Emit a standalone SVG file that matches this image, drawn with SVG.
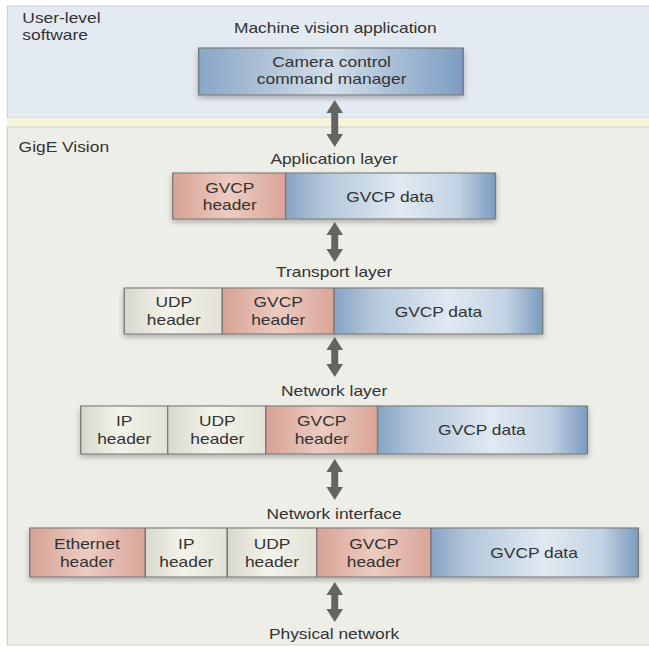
<svg xmlns="http://www.w3.org/2000/svg" width="649" height="648" viewBox="0 0 649 648">
  <defs>
    <linearGradient id="gData" x1="0" y1="0" x2="1" y2="0">
      <stop offset="0" stop-color="#86a3c4"/>
      <stop offset="0.18" stop-color="#b3c7db"/>
      <stop offset="0.55" stop-color="#e1e9f1"/>
      <stop offset="0.82" stop-color="#c3d3e3"/>
      <stop offset="1" stop-color="#7a9bc0"/>
    </linearGradient>
    <linearGradient id="gGvcp" x1="0" y1="0" x2="1" y2="0">
      <stop offset="0" stop-color="#d7a294"/>
      <stop offset="0.5" stop-color="#edcbc1"/>
      <stop offset="1" stop-color="#d9a597"/>
    </linearGradient>
    <linearGradient id="gPlain" x1="0" y1="0" x2="1" y2="0">
      <stop offset="0" stop-color="#d8d7cd"/>
      <stop offset="0.45" stop-color="#f4f3eb"/>
      <stop offset="1" stop-color="#e3e2d8"/>
    </linearGradient>
    <linearGradient id="gCam" x1="0" y1="0" x2="1" y2="0">
      <stop offset="0" stop-color="#88a6c6"/>
      <stop offset="0.5" stop-color="#d3dee9"/>
      <stop offset="1" stop-color="#7c9dc2"/>
    </linearGradient>
    <filter id="shadow" x="-10%" y="-30%" width="120%" height="170%">
      <feGaussianBlur in="SourceAlpha" stdDeviation="2.5"/>
      <feOffset dx="0" dy="3" result="b"/>
      <feComponentTransfer><feFuncA type="linear" slope="0.25"/></feComponentTransfer>
      <feMerge><feMergeNode/><feMergeNode in="SourceGraphic"/></feMerge>
    </filter>
    <marker id="head" viewBox="0 0 13 13.4" refX="1" refY="6.7" markerWidth="13" markerHeight="13.4" markerUnits="userSpaceOnUse" orient="auto-start-reverse">
      <path d="M0,0 L13,6.7 L0,13.4 Z" fill="#646464"/>
    </marker>
  </defs>
  <style>
    text { font-family: "Liberation Sans", Arial, sans-serif; font-size: 14px; fill: #333; }
    .c { text-anchor: middle; }
    .box { stroke: #7a7a7a; stroke-width: 1.1; }
    .link { stroke: #646464; stroke-width: 5.6; fill: none; marker-start: url(#head); marker-end: url(#head); }
  </style>

  <rect width="649" height="648" fill="#ffffff"/>

  <!-- the whole drawing is laid out on a horizontally condensed grid -->
  <g transform="scale(1.242 1)">
    <!-- panels -->
    <g id="user-level">
      <rect x="6" y="6" width="520" height="112" fill="#e4eaf2" stroke="#c9d2dd" stroke-width="1"/>
      <text x="18" y="23">User-level</text>
      <text x="18" y="40">software</text>
      <text class="c" x="270" y="33">Machine vision application</text>
    </g>
    <rect x="6" y="118" width="520" height="9" fill="#f6f4dc"/>
    <g id="gige-vision">
      <rect x="6" y="127" width="520" height="518" fill="#eeeee8" stroke="#cfcfc8" stroke-width="1"/>
      <text x="15" y="152">GigE Vision</text>
    </g>

    <!-- connectors -->
    <g id="connectors">
      <line class="link" x1="269.5" y1="112" x2="269.5" y2="135"/>
      <line class="link" x1="269.5" y1="234" x2="269.5" y2="250"/>
      <line class="link" x1="269.5" y1="349" x2="269.5" y2="365"/>
      <line class="link" x1="269.5" y1="471" x2="269.5" y2="488"/>
      <line class="link" x1="269.5" y1="594" x2="269.5" y2="610"/>
    </g>

    <g id="camera-control">
      <rect class="box" x="160" y="48" width="213" height="47" fill="url(#gCam)" filter="url(#shadow)"/>
      <text class="c" x="267" y="67">Camera control</text>
      <text class="c" x="267" y="84">command manager</text>
    </g>

    <!-- Application layer -->
    <g id="application-layer">
      <text class="c" x="269" y="164">Application layer</text>
      <g filter="url(#shadow)">
        <rect class="box" x="139" y="173" width="91" height="46" fill="url(#gGvcp)"/>
        <rect class="box" x="230" y="173" width="169" height="46" fill="url(#gData)"/>
      </g>
      <text class="c" x="185" y="193">GVCP</text>
      <text class="c" x="185" y="210">header</text>
      <text class="c" x="314" y="202">GVCP data</text>
    </g>

    <!-- Transport layer -->
    <g id="transport-layer">
      <text class="c" x="269" y="277">Transport layer</text>
      <g filter="url(#shadow)">
        <rect class="box" x="100" y="288" width="79" height="46" fill="url(#gPlain)"/>
        <rect class="box" x="179" y="288" width="90" height="46" fill="url(#gGvcp)"/>
        <rect class="box" x="269" y="288" width="168" height="46" fill="url(#gData)"/>
      </g>
      <text class="c" x="140" y="307">UDP</text>
      <text class="c" x="140" y="325">header</text>
      <text class="c" x="224" y="307">GVCP</text>
      <text class="c" x="224" y="325">header</text>
      <text class="c" x="353" y="317">GVCP data</text>
    </g>

    <!-- Network layer -->
    <g id="network-layer">
      <text class="c" x="269" y="396">Network layer</text>
      <g filter="url(#shadow)">
        <rect class="box" x="65" y="406" width="70" height="48" fill="url(#gPlain)"/>
        <rect class="box" x="135" y="406" width="79" height="48" fill="url(#gPlain)"/>
        <rect class="box" x="214" y="406" width="90" height="48" fill="url(#gGvcp)"/>
        <rect class="box" x="304" y="406" width="169" height="48" fill="url(#gData)"/>
      </g>
      <text class="c" x="100" y="426">IP</text>
      <text class="c" x="100" y="444">header</text>
      <text class="c" x="175" y="426">UDP</text>
      <text class="c" x="175" y="444">header</text>
      <text class="c" x="259" y="426">GVCP</text>
      <text class="c" x="259" y="444">header</text>
      <text class="c" x="388" y="435">GVCP data</text>
    </g>

    <!-- Network interface -->
    <g id="network-interface">
      <text class="c" x="269" y="519">Network interface</text>
      <g filter="url(#shadow)">
        <rect class="box" x="24" y="528" width="93" height="49" fill="url(#gGvcp)"/>
        <rect class="box" x="117" y="528" width="66" height="49" fill="url(#gPlain)"/>
        <rect class="box" x="183" y="528" width="72" height="49" fill="url(#gPlain)"/>
        <rect class="box" x="255" y="528" width="92" height="49" fill="url(#gGvcp)"/>
        <rect class="box" x="347" y="528" width="167" height="49" fill="url(#gData)"/>
      </g>
      <text class="c" x="70" y="549">Ethernet</text>
      <text class="c" x="70" y="567">header</text>
      <text class="c" x="150" y="549">IP</text>
      <text class="c" x="150" y="567">header</text>
      <text class="c" x="219" y="549">UDP</text>
      <text class="c" x="219" y="567">header</text>
      <text class="c" x="301" y="549">GVCP</text>
      <text class="c" x="301" y="567">header</text>
      <text class="c" x="430" y="558">GVCP data</text>
    </g>

    <g id="physical-network">
      <text class="c" x="269" y="639">Physical network</text>
    </g>
  </g>
</svg>
